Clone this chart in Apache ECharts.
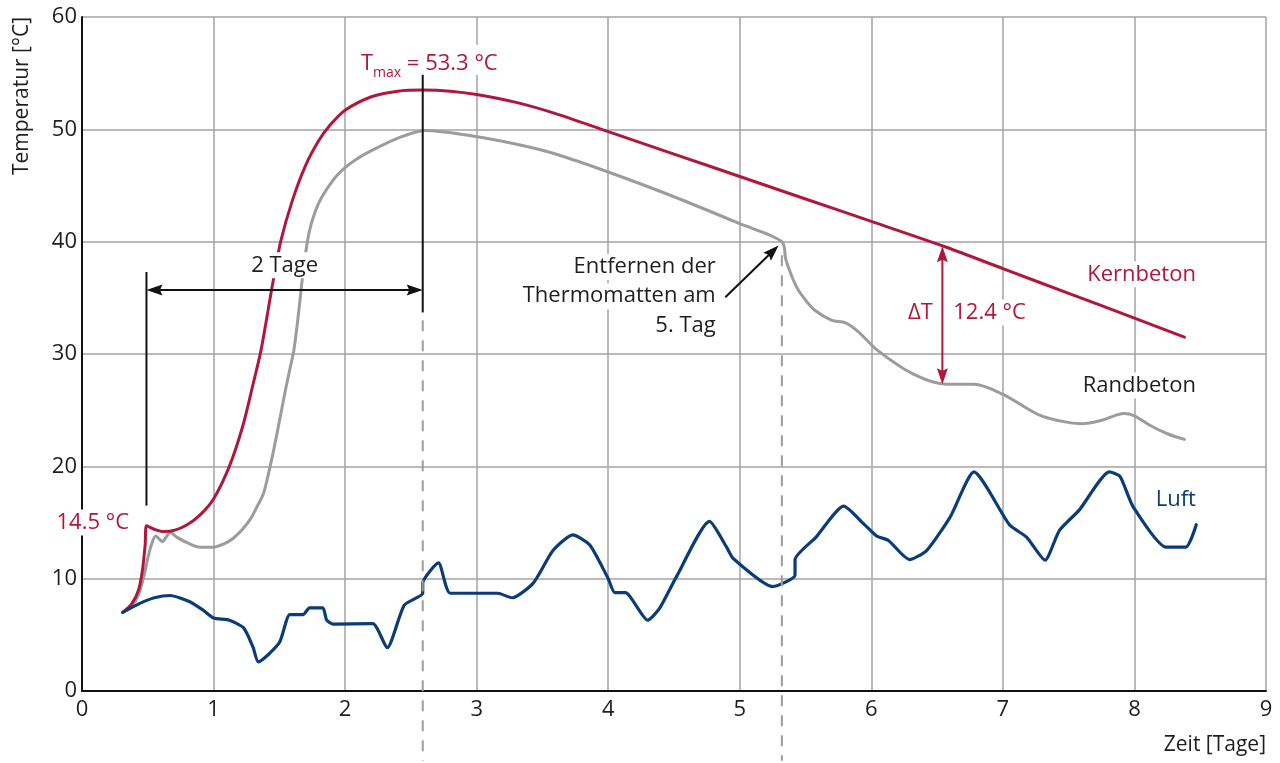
<!DOCTYPE html>
<html><head><meta charset="utf-8">
<script src="https://cdn.jsdelivr.net/npm/echarts@6/dist/echarts.min.js"></script>
<style>html,body{margin:0;padding:0;background:#fff}#c{width:1280px;height:763px}</style>
</head><body><div id="c"></div>
<script>
// ---- data (x = Zeit [Tage], y = Temperatur [°C]) ----
const xTicks = [0,1,2,3,4,5,6,7,8,9];
const yTicks = [0,10,20,30,40,50,60];

const kernbeton = [
  [0.31,7.0],[0.38,7.8],[0.43,9.0],[0.46,10.8],[0.48,13.0],[0.49,14.7],[0.55,14.4],[0.62,14.2],
  [0.70,14.3],[0.80,14.8],[0.90,15.7],[1.00,17.1],[1.12,20.0],[1.22,23.5],[1.30,27.3],[1.36,30.3],
  [1.45,36.3],[1.51,40.0],[1.60,43.7],[1.70,46.8],[1.80,49.0],[1.88,50.3],[2.00,51.7],[2.20,52.9],
  [2.40,53.4],[2.59,53.5],[2.80,53.4],[3.00,53.1],[3.30,52.4],[3.60,51.4],[4.00,49.8],[4.50,47.8],
  [5.00,45.8],[5.50,43.8],[6.00,41.8],[6.57,39.5],[7.00,37.6],[7.50,35.4],[8.00,33.2],[8.38,31.5]
];
const randbeton = [
  [0.31,7.0],[0.38,7.6],[0.43,8.6],[0.47,10.2],[0.50,11.8],[0.53,13.1],[0.56,13.8],[0.61,13.3],
  [0.64,13.7],[0.67,14.1],[0.72,13.7],[0.80,13.2],[0.90,12.8],[1.00,12.8],[1.08,13.1],[1.15,13.6],
  [1.22,14.4],[1.28,15.3],[1.33,16.4],[1.38,17.6],[1.43,20.0],[1.47,22.2],[1.51,24.6],[1.55,27.0],
  [1.59,29.2],[1.61,30.3],[1.64,33.0],[1.67,36.2],[1.70,39.0],[1.73,41.0],[1.77,42.6],[1.82,43.9],
  [1.91,45.5],[1.98,46.4],[2.08,47.3],[2.20,48.1],[2.42,49.3],[2.61,49.9],
  [2.97,49.4],[3.33,48.6],[3.60,47.8],[4.00,46.2],[4.50,44.0],[5.00,41.6],[5.32,40.0],[5.35,38.4],
  [5.43,36.0],[5.50,34.8],[5.57,33.9],[5.70,33.0],[5.80,32.8],[5.90,32.0],[6.05,30.3],[6.32,28.2],
  [6.57,27.3],[6.78,27.3],[7.00,26.4],[7.27,24.6],[7.45,24.0],[7.60,23.8],[7.75,24.1],[7.92,24.7],
  [8.00,24.5],[8.11,23.7],[8.25,22.9],[8.38,22.4]
];
const luft = [
  [0.31,7.0],[0.44,7.8],[0.55,8.3],[0.67,8.5],[0.82,7.95],[0.92,7.2],[1.00,6.5],[1.12,6.3],
  [1.23,5.6],[1.30,3.9],[1.34,2.6],[1.50,4.3],[1.58,6.8],[1.68,6.8],[1.73,7.4],[1.83,7.4],
  [1.86,6.3],[1.91,5.95],[2.21,6.0],[2.32,3.85],[2.45,7.65],[2.59,8.7],[2.59,9.6],[2.71,11.4],
  [2.80,8.7],[3.16,8.7],[3.27,8.3],[3.43,9.6],[3.58,12.5],[3.73,13.9],[3.86,13.0],[4.00,10.0],
  [4.05,8.75],[4.13,8.75],[4.30,6.3],[4.39,7.35],[4.52,10.2],[4.77,15.1],[4.90,12.8],[4.95,11.8],
  [5.25,9.3],[5.42,10.3],[5.42,11.7],[5.58,13.7],[5.79,16.45],[5.94,14.9],[6.04,13.8],[6.13,13.4],
  [6.29,11.7],[6.42,12.5],[6.60,15.5],[6.78,19.5],[7.05,14.8],[7.18,13.7],[7.32,11.65],[7.43,14.3],
  [7.58,16.1],[7.81,19.5],[7.89,19.1],[7.99,16.4],[8.24,12.8],[8.39,12.8],[8.47,14.8]
];

// annotation values
const startDay = 0.49, startTemp = 14.5;
const tMaxDay = 2.59, tMax = 53.3;
const removeDay = 5.32, removeTemp = 40.0;
const deltaDay = 6.54, deltaTop = 39.6, deltaBottom = 27.3, deltaT = 12.4;

const RED = '#b0173d', GRAY = '#9c9c9c', BLUE = '#0b3c78', DARK = '#1e1e1e', GRID = '#a3a3a3';
const FONT = '"Open Sans", "Noto Sans", sans-serif';
const FS = 22;

const chart = echarts.init(document.getElementById('c'), null, {renderer: 'canvas'});
const lineSeries = (name, data, color, width, smooth) => ({
  name, type: 'line', data, showSymbol: false, symbol: 'none', smooth,
  lineStyle: {color, width, cap: 'round', join: 'round'}, z: 3, silent: true
});
chart.setOption({
  animation: false,
  backgroundColor: '#fff',
  grid: {left: 82, right: 14, top: 17, bottom: 72, containLabel: false},
  xAxis: {
    type: 'value', min: xTicks[0], max: xTicks[xTicks.length - 1], interval: 1,
    axisLine: {show: true, lineStyle: {color: '#111', width: 2}},
    axisTick: {show: false},
    axisLabel: {fontFamily: FONT, fontSize: FS, color: DARK, margin: 8, showMinLabel: true, showMaxLabel: true},
    splitLine: {show: true, lineStyle: {color: GRID, width: 1.5}}
  },
  yAxis: {
    type: 'value', min: yTicks[0], max: yTicks[yTicks.length - 1], interval: 10,
    axisLine: {show: true, lineStyle: {color: '#111', width: 2}},
    axisTick: {show: false},
    axisLabel: {fontFamily: FONT, fontSize: FS, color: DARK, margin: 5},
    splitLine: {show: true, lineStyle: {color: GRID, width: 1.5}}
  },
  series: [
    lineSeries('Randbeton', randbeton, GRAY, 3, 0.3),
    lineSeries('Kernbeton', kernbeton, RED, 3, 0.3),
    lineSeries('Luft', luft, BLUE, 3.2, 0.2)
  ]
});

function P(x, y) { return chart.convertToPixel({gridIndex: 0}, [x, y]); }
function seg(a, b, color, width, dash) {
  return {type: 'line', z: 50, silent: true,
    shape: {x1: a[0], y1: a[1], x2: b[0], y2: b[1]},
    style: {stroke: color, lineWidth: width, lineDash: dash || null}};
}
function head(tip, from, color, len, half) {
  const dx = tip[0] - from[0], dy = tip[1] - from[1];
  const d = Math.hypot(dx, dy), ux = dx / d, uy = dy / d;
  const bx = tip[0] - ux * len, by = tip[1] - uy * len;
  return {type: 'polygon', z: 51, silent: true,
    shape: {points: [tip, [bx - uy * half, by + ux * half], [bx + ux * 2.5, by + uy * 2.5], [bx + uy * half, by - ux * half]]},
    style: {fill: color}};
}
function arrowLine(a, b, color, width, both) {
  const out = [];
  const dx = b[0] - a[0], dy = b[1] - a[1], d = Math.hypot(dx, dy);
  const ux = dx / d, uy = dy / d;
  const a2 = both ? [a[0] + ux * 10, a[1] + uy * 10] : a;
  const b2 = [b[0] - ux * 10, b[1] - uy * 10];
  out.push(seg(a2, b2, color, width));
  out.push(head(b, a, color, 16, 5.5));
  if (both) out.push(head(a, b, color, 16, 5.5));
  return out;
}
function label(pos, text, color, align, extra) {
  return Object.assign({type: 'text', z: 60, silent: true, x: pos[0], y: pos[1],
    style: {text, fill: color, font: FS + 'px ' + FONT, align, verticalAlign: 'middle',
      backgroundColor: '#fff', padding: [2, 3, 2, 3]}}, extra || {});
}

const g = [];
// Tmax vertical marker
g.push(seg(P(tMaxDay, 55.0), P(tMaxDay, 33.7), '#111', 2));
g.push(seg(P(tMaxDay, 33.0), P(tMaxDay, -6.2), GRAY, 2, [11, 9]));
// removal dashed marker
g.push(seg(P(removeDay, 38.8), P(removeDay, -6.2), GRAY, 2, [11, 9]));
// 2 Tage bracket
g.push(seg(P(startDay, 37.3), P(startDay, 16.5), '#111', 2));
g.push(...arrowLine(P(startDay, 35.7), P(tMaxDay, 35.7), '#111', 2, true));
// delta T arrow
g.push(...arrowLine(P(deltaDay, deltaTop), P(deltaDay, deltaBottom), RED, 2, true));
// removal pointer arrow
g.push(...arrowLine(P(4.89, 35.05), P(5.295, 39.65), '#111', 2, false));

// texts
g.push(label(P(1.54, 37.9), '2 Tage', DARK, 'center'));
g.push(label(P(0.38, 15.0), startTemp.toFixed(1) + ' °C', RED, 'right'));
g.push(label(P(4.84, 37.75), 'Entfernen der', DARK, 'right'));
g.push(label(P(4.84, 35.15), 'Thermomatten am', DARK, 'right'));
g.push(label(P(4.84, 32.55), '5. Tag', DARK, 'right'));
g.push(label(P(6.49, 33.7), 'ΔT', RED, 'right'));
g.push(label(P(6.6, 33.7), deltaT.toFixed(1) + ' °C', RED, 'left'));
g.push(label(P(8.49, 37.1), 'Kernbeton', RED, 'right'));
g.push(label(P(8.49, 27.2), 'Randbeton', DARK, 'right'));
g.push(label(P(8.49, 17.0), 'Luft', BLUE, 'right'));
const tp = P(2.64, 56.2);
g.push({type: 'text', z: 60, silent: true, x: tp[0], y: tp[1],
  style: {text: '{a|T}{b|max}{a| = ' + tMax.toFixed(1) + ' °C}', align: 'center', verticalAlign: 'middle',
    backgroundColor: '#fff', padding: [0, 3, 0, 3],
    rich: {a: {fontSize: 22, fontFamily: FONT, fill: RED, color: RED, lineHeight: 30, verticalAlign: 'bottom'},
           b: {fontSize: 14, fontFamily: FONT, fill: RED, color: RED, lineHeight: 30, verticalAlign: 'bottom', padding: [0, 0, -5, 0]}}}});
// axis titles
g.push({type: 'text', z: 60, silent: true, x: 22, y: 96, rotation: Math.PI / 2,
  style: {text: 'Temperatur [°C]', fill: DARK, font: '21px ' + FONT, align: 'center', verticalAlign: 'middle'}});
g.push({type: 'text', z: 60, silent: true, x: 1266, y: 745,
  style: {text: 'Zeit [Tage]', fill: DARK, font: '21px ' + FONT, align: 'right', verticalAlign: 'middle'}});

chart.setOption({graphic: {elements: g}});
</script></body></html>
